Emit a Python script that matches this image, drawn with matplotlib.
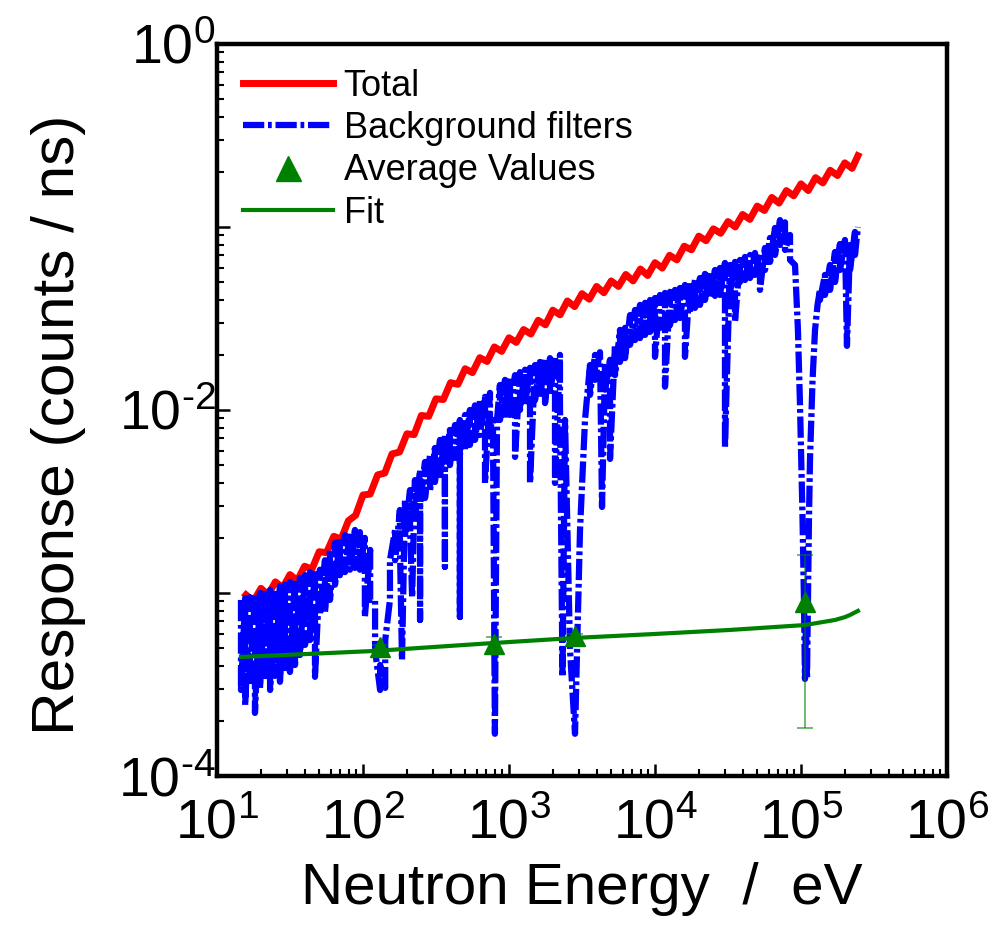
import matplotlib
matplotlib.use("Agg")
import matplotlib.pyplot as plt
from matplotlib.ticker import LogLocator, NullFormatter

plt.rcParams["font.family"] = ["Liberation Sans", "DejaVu Sans"]
plt.rcParams["mathtext.fontset"] = "custom"
plt.rcParams["mathtext.rm"] = "Liberation Sans"
plt.rcParams["mathtext.it"] = "Liberation Sans:italic"
plt.rcParams["mathtext.default"] = "regular"
plt.rcParams["axes.unicode_minus"] = False

# Total response (red)
total_energy = [
    15.8, 17.8, 20.0, 22.4, 25.1, 28.2, 31.6, 35.5, 39.8, 44.7,
    50.1, 56.2, 63.1, 70.8, 79.4, 89.1, 100, 112, 126, 141,
    158, 178, 200, 224, 251, 282, 316, 355, 398, 447,
    501, 562, 631, 708, 794, 891, 1000, 1122, 1259, 1413,
    1585, 1778, 1995, 2239, 2512, 2818, 3162, 3548, 3981, 4467,
    5012, 5623, 6310, 7079, 7943, 8913, 10000, 11220, 12590, 14130,
    15850, 17780, 19950, 22390, 25120, 28180, 31620, 35480, 39810, 44670,
    50120, 56230, 63100, 70790, 79430, 89130, 100000, 112200, 125900, 141300,
    158500, 177800, 199500, 223900, 245500,
]
total_resp = [
    9.77e-4, 9.02e-4, 1.06e-3, 9.77e-4, 1.15e-3, 1.07e-3, 1.26e-3, 1.17e-3, 1.40e-3, 1.35e-3,
    1.68e-3, 1.66e-3, 2.04e-3, 1.97e-3, 2.48e-3, 2.66e-3, 3.43e-3, 3.47e-3, 4.42e-3, 4.52e-3,
    5.75e-3, 5.89e-3, 7.41e-3, 7.33e-3, 9.33e-3, 9.23e-3, 1.15e-2, 1.14e-2, 1.41e-2, 1.38e-2,
    1.68e-2, 1.60e-2, 1.93e-2, 1.84e-2, 2.21e-2, 2.09e-2, 2.48e-2, 2.34e-2, 2.75e-2, 2.60e-2,
    3.09e-2, 2.92e-2, 3.51e-2, 3.31e-2, 3.94e-2, 3.67e-2, 4.32e-2, 4.03e-2, 4.73e-2, 4.37e-2,
    5.07e-2, 4.73e-2, 5.50e-2, 5.07e-2, 5.89e-2, 5.43e-2, 6.38e-2, 5.96e-2, 7.00e-2, 6.61e-2,
    7.85e-2, 7.50e-2, 8.91e-2, 8.41e-2, 9.77e-2, 9.23e-2, 0.107, 0.100, 0.117, 0.110,
    0.130, 0.123, 0.145, 0.135, 0.158, 0.148, 0.172, 0.158, 0.186, 0.174,
    0.204, 0.191, 0.224, 0.209, 0.245,
]

# Background filters (blue), top/bottom of the noisy band plus the dips
bg_energy = [
    14.6, 14.6, 15.6, 15.6, 16.8, 16.8, 18.2, 18.2, 19.7, 19.7,
    21.3, 21.3, 23.1, 23.1, 25.0, 25.0, 27.0, 27.0, 29.2, 29.2,
    31.6, 31.6, 34.2, 34.2, 37.0, 37.0, 40.1, 40.1, 43.4, 43.4,
    46.9, 46.9,
    50.7, 50.7, 54.9, 54.9, 59.4, 59.4, 64.3, 64.3, 69.5, 69.5,
    75.3, 75.3, 81.4, 81.4, 88.1, 88.1, 95.3, 95.3, 103, 103, 112, 112,
    121, 121, 131, 131, 142, 142, 153, 153, 166, 166,
    179, 179, 185, 194, 194, 210, 210, 217, 227, 227,
    246, 246, 246, 266, 266, 288, 288, 311, 311, 337, 337,
    364, 364, 364, 394, 394, 427, 427, 461, 461, 461,
    500, 500, 540, 540, 585, 585, 632, 632, 685, 685, 741, 741,
    776, 801, 828,
    867, 867, 939, 939, 1016, 1016, 1100, 1100, 1189, 1189,
    1288, 1288, 1393, 1393, 1507, 1507, 1630, 1630, 1766, 1766,
    1909, 1909, 2066, 2066, 2234, 2234,
    2325, 2420, 2618, 2833, 3065, 3316,
    3588, 3588, 3882, 3882, 4200, 4337, 4549, 4549, 4921, 4921,
    5324, 5324, 5760, 5760, 6237, 6237, 6748, 6748, 7300, 7300,
    7898, 7898, 8551, 8551, 9251, 9251, 10000, 10000, 10820, 10820,
    11710, 11710, 12670, 12670, 13710, 13710, 14830, 14830, 16040, 16040,
    17370, 17370, 18790, 18790, 20330, 20330, 21990, 21990, 23810, 23810,
    25760, 25760, 27860, 27860, 30150, 30150, 32650, 32650, 35320, 35320,
    38210, 38210, 41340, 41340, 44770, 44770, 48420, 48420, 52380, 52380,
    56670, 56670, 61370, 61370, 66390, 66390, 71820, 71820, 77700, 77700,
    84140, 84140,
    91020, 95300, 98470, 102300, 104800, 106500, 108200, 109900, 111600, 113400,
    115300, 120000, 124800, 129800,
    134900, 134900, 145900, 145900, 158100, 158100, 171000, 171000, 184900, 184900,
    200100, 206500, 216600, 216600, 234300, 234300, 245500,
]
bg_resp = [
    9.16e-4, 2.95e-4, 9.37e-4, 2.44e-4, 9.48e-4, 3.14e-4, 9.88e-4, 2.21e-4, 1.00e-3, 3.03e-4,
    1.03e-3, 3.35e-4, 1.04e-3, 2.95e-4, 1.05e-3, 3.52e-4, 1.09e-3, 3.27e-4, 1.11e-3, 3.89e-4,
    1.15e-3, 3.70e-4, 1.18e-3, 4.04e-4, 1.21e-3, 4.58e-4, 1.25e-3, 5.20e-4, 1.30e-3, 5.53e-4,
    1.34e-3, 3.48e-4,
    1.34e-3, 7.58e-4, 1.51e-3, 7.87e-4, 1.72e-3, 9.16e-4, 1.88e-3, 1.11e-3, 2.00e-3, 1.25e-3,
    2.07e-3, 1.30e-3, 2.15e-3, 1.34e-3, 2.21e-3, 1.37e-3, 2.15e-3, 1.34e-3, 2.00e-3, 7.39e-4, 1.72e-3, 9.16e-4,
    9.16e-4, 4.88e-4, 2.95e-4, 4.04e-4, 3.03e-4, 5.53e-4, 9.16e-4, 1.51e-3, 2.21e-3, 1.51e-3,
    2.84e-3, 1.83e-3, 4.31e-4, 3.22e-3, 2.07e-3, 3.65e-3, 2.35e-3, 9.48e-4, 4.14e-3, 2.67e-3,
    4.70e-3, 7.12e-4, 3.03e-3, 5.20e-3, 3.30e-3, 5.68e-3, 3.65e-3, 6.20e-3, 4.04e-3, 6.86e-3, 4.41e-3,
    7.30e-3, 1.39e-3, 4.70e-3, 7.78e-3, 5.00e-3, 8.28e-3, 5.47e-3, 8.82e-3, 7.39e-4, 5.68e-3,
    9.39e-3, 6.04e-3, 1.00e-2, 6.44e-3, 1.06e-2, 6.86e-3, 1.13e-2, 7.30e-3, 1.18e-2, 3.99e-3, 1.24e-2, 7.97e-3,
    8.82e-3, 1.70e-4, 8.82e-3,
    1.37e-2, 8.82e-3, 1.46e-2, 9.04e-3, 1.51e-2, 9.39e-3, 1.55e-2, 5.54e-3, 1.61e-2, 1.00e-2,
    1.66e-2, 1.06e-2, 1.70e-2, 3.99e-3, 1.76e-2, 1.13e-2, 1.83e-2, 1.16e-2, 1.88e-2, 1.09e-2,
    1.92e-2, 1.21e-2, 1.97e-2, 3.99e-3, 2.00e-2, 1.13e-2,
    3.48e-4, 8.82e-3, 4.88e-4, 1.70e-4, 2.21e-3, 8.82e-3,
    1.76e-2, 1.21e-2, 2.00e-2, 1.46e-2, 2.07e-2, 2.95e-3, 1.72e-2, 1.29e-2, 1.88e-2, 5.40e-3,
    2.27e-2, 1.55e-2, 2.74e-2, 1.83e-2, 2.81e-2, 1.92e-2, 3.30e-2, 2.27e-2, 3.52e-2, 2.41e-2,
    3.75e-2, 2.47e-2, 3.85e-2, 2.57e-2, 3.99e-2, 2.67e-2, 4.09e-2, 1.95e-2, 4.25e-2, 2.81e-2,
    4.36e-2, 1.34e-2, 4.42e-2, 2.91e-2, 4.53e-2, 3.10e-2, 4.64e-2, 3.18e-2, 4.82e-2, 1.95e-2,
    5.00e-2, 3.43e-2, 5.13e-2, 3.61e-2, 5.26e-2, 3.75e-2, 5.54e-2, 3.99e-2, 5.68e-2, 4.09e-2,
    5.82e-2, 4.20e-2, 5.97e-2, 4.25e-2, 6.36e-2, 6.28e-3, 6.20e-2, 4.42e-2, 6.44e-2, 3.03e-2,
    6.60e-2, 5.00e-2, 6.86e-2, 5.13e-2, 7.03e-2, 5.26e-2, 7.21e-2, 5.47e-2, 7.21e-2, 4.53e-2,
    7.68e-2, 5.82e-2, 8.71e-2, 6.44e-2, 9.88e-2, 7.03e-2, 0.109, 7.97e-2, 0.106, 7.49e-2,
    9.04e-2, 6.60e-2,
    6.20e-2, 2.74e-2, 1.06e-2, 2.74e-3, 9.16e-4, 3.39e-4, 7.12e-4, 3.39e-4, 9.16e-4, 2.51e-3,
    5.40e-3, 1.46e-2, 2.74e-2, 3.75e-2,
    4.53e-2, 3.99e-2, 5.47e-2, 4.25e-2, 6.20e-2, 4.53e-2, 7.30e-2, 5.00e-2, 8.07e-2, 5.82e-2,
    8.49e-2, 2.24e-2, 7.97e-2, 5.82e-2, 9.39e-2, 7.03e-2, 0.100,
]

# Average values with error bars
avg_energy = [131, 790, 2850, 106000]
avg_resp = [5.07e-4, 5.26e-4, 5.82e-4, 8.93e-4]
avg_err_low = [1.5e-5, 6.2e-5, 1.5e-5, 7.1e-4]
avg_err_high = [1.5e-5, 4.9e-5, 1.5e-5, 7.2e-4]

# Fit curve
fit_energy = [14.6, 119, 790, 2830, 10000, 32650, 106500, 171000, 200000, 216600, 245500]
fit_resp = [4.47e-4, 4.82e-4, 5.33e-4, 5.68e-4, 5.97e-4, 6.28e-4, 6.68e-4, 7.12e-4, 7.38e-4, 7.58e-4, 7.98e-4]

x_ticks = [1e1, 1e2, 1e3, 1e4, 1e5, 1e6]
x_labels = ["$10^{1}$", "$10^{2}$", "$10^{3}$", "$10^{4}$", "$10^{5}$", "$10^{6}$"]
y_ticks = [1e-4, 1e-3, 1e-2, 1e-1, 1e0]
y_labels = [r"$10^{\text{-}4}$", "", r"$10^{\text{-}2}$", "", "$10^{0}$"]

fig = plt.figure(figsize=(9.94, 9.33), dpi=100)
ax = fig.add_axes([0.2183, 0.1683, 0.7344, 0.7846])

h_total, = ax.plot(total_energy, total_resp, color="#ff0000", lw=5.0, label="Total")
h_bg, = ax.plot(bg_energy, bg_resp, color="#0000ff", lw=4.5,
                linestyle=(0, (3.4, 0.6, 0.6, 0.6)), label="Background filters")
h_fit, = ax.plot(fit_energy, fit_resp, color="#008000", lw=3.0, label="Fit")
ax.errorbar(avg_energy, avg_resp, yerr=[avg_err_low, avg_err_high], fmt="none",
            ecolor="#008000", alpha=0.6, elinewidth=1.3, capsize=6, capthick=1.3)
h_avg, = ax.plot(avg_energy, avg_resp, linestyle="none", marker="^", ms=15,
                 color="#008000", label="Average Values")

ax.set_xscale("log")
ax.set_yscale("log")
ax.set_xlim(10, 1e6)
ax.set_ylim(1e-4, 1)

ax.set_xticks(x_ticks)
ax.set_xticklabels(x_labels)
ax.set_yticks(y_ticks)
ax.set_yticklabels(y_labels)
ax.xaxis.set_minor_locator(LogLocator(base=10, subs=range(2, 10), numticks=20))
ax.yaxis.set_minor_locator(LogLocator(base=10, subs=range(2, 10), numticks=20))
ax.xaxis.set_minor_formatter(NullFormatter())
ax.yaxis.set_minor_formatter(NullFormatter())

ax.tick_params(which="both", direction="in", top=False, right=False, labelsize=40)
ax.tick_params(which="major", length=9, width=1.8)
ax.tick_params(which="minor", length=5, width=1.5)
ax.tick_params(axis="x", which="major", pad=16)
ax.tick_params(axis="y", which="major", pad=1)
for sp in ax.spines.values():
    sp.set_linewidth(3.2)

ax.set_xlabel("Neutron Energy  /  eV", fontsize=42)
ax.set_ylabel("Response (counts / ns)", fontsize=43.5)
ax.xaxis.set_label_coords(0.5, -0.118)
ax.yaxis.set_label_coords(-0.18, 0.48)

ax.legend(handles=[h_total, h_bg, h_avg, h_fit], loc="upper left",
          bbox_to_anchor=(0.035, 0.966), frameon=False, fontsize=26,
          handlelength=2.5, handletextpad=0.3, labelspacing=0.2,
          borderaxespad=0, borderpad=0, markerscale=1.2)

fig.savefig("out.png", dpi=100)
